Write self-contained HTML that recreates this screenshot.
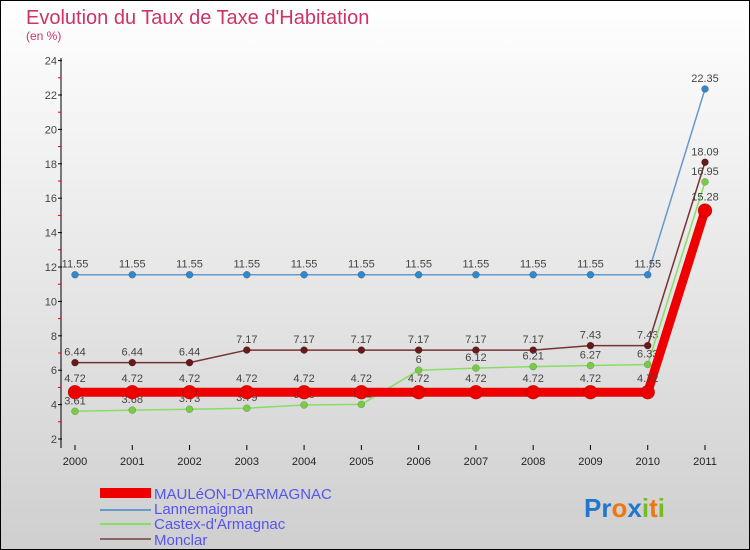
<!DOCTYPE html>
<html><head><meta charset="utf-8"><style>
body{margin:0;}
#wrap{width:750px;height:550px;position:relative;overflow:hidden;}
svg text{font-family:"Liberation Sans",sans-serif;}
</style></head><body>
<div id="wrap">
<svg id="svg" width="750" height="550" xmlns="http://www.w3.org/2000/svg">
<defs><linearGradient id="bg" x1="0" y1="0" x2="0" y2="1"><stop offset="0" stop-color="#ffffff"/><stop offset="1" stop-color="#cfcfcf"/></linearGradient></defs>
<rect x="0.5" y="0.5" width="749" height="549" fill="url(#bg)" stroke="#000"/>
<text x="26" y="24" font-size="20" fill="#cc3366">Evolution du Taux de Taxe d'Habitation</text>
<text x="26" y="40" font-size="12" fill="#cc3366">(en %)</text>
<g id="axes"></g><g id="series"></g>
<g>
<rect x="100" y="488" width="51" height="10" fill="#ee0000"/>
<text x="154" y="499" font-size="15" fill="#5555ee">MAULéON-D'ARMAGNAC</text>
<line x1="100" y1="510" x2="151" y2="510" stroke="#6699cc" stroke-width="2"/>
<text x="154" y="514" font-size="15" fill="#5555ee">Lannemaignan</text>
<line x1="100" y1="524" x2="151" y2="524" stroke="#88dd66" stroke-width="2"/>
<text x="154" y="529" font-size="15" fill="#5555ee">Castex-d'Armagnac</text>
<line x1="100" y1="539" x2="151" y2="539" stroke="#886666" stroke-width="2"/>
<text x="154" y="545" font-size="15" fill="#5555ee">Monclar</text>
</g>
<text x="584" y="517" font-size="26" font-weight="bold"><tspan fill="#2277cc">Pr</tspan><tspan fill="#ee7711">o</tspan><tspan fill="#2277cc">x</tspan><tspan fill="#77bb22">i</tspan><tspan fill="#ee7711">t</tspan><tspan fill="#77bb22">i</tspan></text>
</svg></div>
<script>
const years=["2000","2001","2002","2003","2004","2005","2006","2007","2008","2009","2010","2011"];
const yTicks=[2,4,6,8,10,12,14,16,18,20,22,24];
const mauleon=[4.72,4.72,4.72,4.72,4.72,4.72,4.72,4.72,4.72,4.72,4.72,15.28];
const lannemaignan=[11.55,11.55,11.55,11.55,11.55,11.55,11.55,11.55,11.55,11.55,11.55,22.35];
const castex=[3.61,3.68,3.73,3.79,3.98,4.01,6,6.12,6.21,6.27,6.33,16.95];
const monclar=[6.44,6.44,6.44,7.17,7.17,7.17,7.17,7.17,7.17,7.43,7.43,18.09];
const NS="http://www.w3.org/2000/svg";
function xs(i){return 75+i*(630/11);}
function ys(v){return 439-(v-2)*17.2;}
function mk(tag,attrs,parent){const e=document.createElementNS(NS,tag);for(const k in attrs)e.setAttribute(k,attrs[k]);parent.appendChild(e);return e;}
const ax=document.getElementById('axes');
const yl=mk('line',{x1:61,y1:58,x2:61,y2:448,stroke:'#000'},ax);


yTicks.forEach((v,k)=>{
 mk('line',{x1:58,y1:ys(v),x2:62,y2:ys(v),stroke:'#000'},ax);
 if(k<yTicks.length-1) mk('line',{x1:58,y1:ys(v+1),x2:61,y2:ys(v+1),stroke:'#e00'},ax);
 const t=mk('text',{x:57,y:ys(v)+4,'font-size':11,fill:'#444','text-anchor':'end'},ax);t.textContent=v;
 
 
});
years.forEach((y,i)=>{
 mk('line',{x1:xs(i),y1:445,x2:xs(i),y2:450,stroke:'#000'},ax);
 const t=mk('text',{x:xs(i),y:465,'font-size':11,fill:'#222','text-anchor':'middle'},ax);t.textContent=y;
 
 
});
const sg=document.getElementById('series');
function draw(data,color,w,r,name,dot){
 const g=mk('g',{},sg);
 
 
 mk('polyline',{points:data.map((v,i)=>xs(i)+','+ys(v)).join(' '),fill:'none',stroke:color,'stroke-width':w,'stroke-linejoin':'round'},g);
 data.forEach((v,i)=>{
  const c=mk('circle',{cx:xs(i),cy:ys(v),r:r,fill:dot,stroke:'rgba(0,0,0,0.3)','stroke-width':0.5},g);
  
  
  const t=mk('text',{x:xs(i),y:ys(v)-7-(r>5?3:0),'font-size':11,fill:'#444','text-anchor':'middle'},g);
  t.textContent=String(v);
  
  
 });
}
draw(lannemaignan,'#6699cc',1.5,3.5,'series-lannemaignan','#3388cc');
draw(monclar,'#773333',1.5,3.5,'series-monclar','#661a1a');
draw(castex,'#88dd66',1.5,3.5,'series-castex','#77cc44');
draw(mauleon,'#ee0000',9,7,'series-mauleon','#ee0000');
</script>
</body></html>
